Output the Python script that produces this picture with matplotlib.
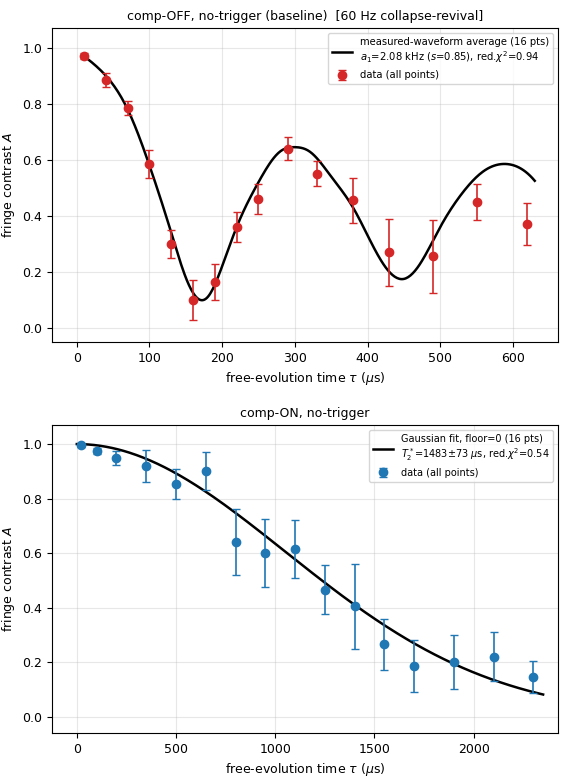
import numpy as np
import matplotlib
matplotlib.use("Agg")
import matplotlib.pyplot as plt

# top panel data
t1 = [10, 40, 70, 100, 130, 160, 190, 220, 250, 290, 330, 380, 430, 490, 550, 620]
a1 = [0.97, 0.885, 0.785, 0.585, 0.30, 0.10, 0.165, 0.36, 0.46, 0.64, 0.55, 0.455, 0.27, 0.255, 0.45, 0.37]
e1 = [0.01, 0.025, 0.025, 0.05, 0.05, 0.07, 0.065, 0.055, 0.055, 0.04, 0.045, 0.08, 0.12, 0.13, 0.065, 0.075]
# measured-waveform average curve
ct1 = [10, 40, 70, 100, 130, 150, 170, 180, 200, 220, 250, 280, 300, 320, 350, 380, 410, 430, 450, 470, 500, 530, 560, 590, 610, 630]
ca1 = [0.97, 0.90, 0.78, 0.58, 0.34, 0.18, 0.10, 0.11, 0.22, 0.36, 0.52, 0.63, 0.645, 0.63, 0.54, 0.43, 0.28, 0.20, 0.175, 0.22, 0.36, 0.48, 0.56, 0.585, 0.57, 0.525]

# bottom panel data
t2 = [20, 100, 200, 350, 500, 650, 800, 950, 1100, 1250, 1400, 1550, 1700, 1900, 2100, 2300]
a2 = [0.995, 0.975, 0.95, 0.92, 0.855, 0.90, 0.64, 0.60, 0.615, 0.465, 0.405, 0.265, 0.185, 0.20, 0.22, 0.145]
e2 = [0.005, 0.01, 0.025, 0.06, 0.055, 0.07, 0.12, 0.125, 0.105, 0.09, 0.155, 0.095, 0.095, 0.10, 0.09, 0.06]
T2 = 1483.0

fig = plt.figure(figsize=(5.69, 7.8), dpi=100)
ax1 = fig.add_axes([52/569, 1-342/780, 506/569, 314/780])
ax2 = fig.add_axes([52/569, 1-733/780, 506/569, 308/780])

xs = np.linspace(ct1[0], ct1[-1], 400)
try:
    from scipy.interpolate import CubicSpline
    ys = CubicSpline(ct1, ca1)(xs)
except Exception:
    ys = np.interp(xs, ct1, ca1)
ax1.plot(xs, ys, color='black', lw=1.8,
         label='measured-waveform average (16 pts)\n$a_1$=2.08 kHz ($s$=0.85), red.$\\chi^2$=0.94')
ax1.errorbar(t1, a1, yerr=e1, fmt='o', color='#d62728', ms=6, capsize=3, elinewidth=1.2,
             label='data (all points)')
ax1.set_xlim(-34, 662)
ax1.set_ylim(-0.05, 1.07)
ax1.set_title('comp-OFF, no-trigger (baseline)  [60 Hz collapse-revival]', fontsize=9)
ax1.set_xlabel('free-evolution time $\\tau$ ($\\mu$s)', fontsize=9)
ax1.set_ylabel('fringe contrast $A$', fontsize=9)
ax1.legend(loc='upper right', fontsize=7.2)

xg = np.linspace(0, 2350, 400)
ax2.plot(xg, np.exp(-(xg/T2)**2), color='black', lw=1.8,
         label='Gaussian fit, floor=0 (16 pts)\n$T_2^*$=1483$\\pm$73 $\\mu$s, red.$\\chi^2$=0.54')
ax2.errorbar(t2, a2, yerr=e2, fmt='o', color='#1f77b4', ms=6, capsize=3, elinewidth=1.2,
             label='data (all points)')
ax2.set_xlim(-125, 2425)
ax2.set_ylim(-0.06, 1.07)
ax2.set_title('comp-ON, no-trigger', fontsize=9)
ax2.set_xlabel('free-evolution time $\\tau$ ($\\mu$s)', fontsize=9)
ax2.set_ylabel('fringe contrast $A$', fontsize=9)
ax2.legend(loc='upper right', fontsize=7)

for ax in (ax1, ax2):
    ax.grid(True, alpha=0.3)
    ax.tick_params(labelsize=9)

fig.savefig('out.png', dpi=100)
